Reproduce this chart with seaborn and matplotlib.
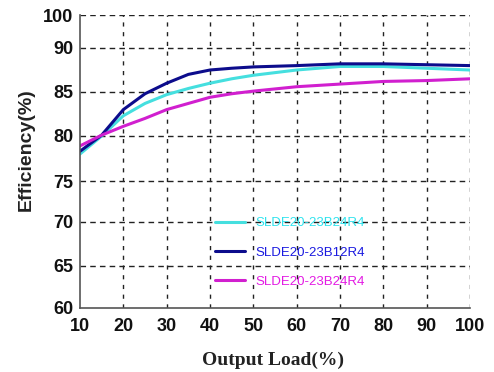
import numpy as np
import pandas as pd
import matplotlib
matplotlib.use("Agg")
import matplotlib.pyplot as plt
import seaborn as sns

# ---- data ----
load = [10, 15, 20, 25, 30, 35, 40, 45, 50, 60, 70, 80, 90, 100]
eff_b24_cyan = [78.0, 80.0, 82.3, 83.7, 84.7, 85.4, 86.0, 86.5, 86.9, 87.5, 87.9, 87.9, 87.7, 87.5]
eff_b12_blue = [78.3, 80.1, 83.0, 84.8, 86.0, 87.0, 87.5, 87.7, 87.85, 88.0, 88.2, 88.2, 88.1, 88.0]
eff_b24_mag = [78.9, 80.1, 81.1, 82.0, 83.0, 83.7, 84.4, 84.8, 85.1, 85.6, 85.9, 86.2, 86.3, 86.5]
labels = ["SLDE20-23B24R4", "SLDE20-23B12R4", "SLDE20-23B24R4"]
x_ticks = [10, 20, 30, 40, 50, 60, 70, 80, 90, 100]
y_ticks = [60, 65, 70, 75, 80, 85, 90, 100]

line_colors = ["#45dfdf", "#0c0c8c", "#d11fcf"]
text_colors = ["#2fe3ee", "#1a1ae0", "#e31ae3"]

sns.set_theme(style="white")
plt.rcParams["font.family"] = ["Liberation Sans", "DejaVu Sans"]

fig = plt.figure(figsize=(4.94, 3.72), dpi=100)
ax = fig.add_axes([80 / 494, 1 - 308 / 372, 390 / 494, 293 / 372])

# non-uniform y axis (90-100 compressed, as in the original)
tick_pos = np.array([0, 42, 86, 127, 172, 216, 260, 293], dtype=float)
tick_val = np.array(y_ticks, dtype=float)


def fwd(y):
    y = np.asarray(y, dtype=float)
    out = np.interp(y, tick_val, tick_pos)
    lo = y < tick_val[0]
    hi = y > tick_val[-1]
    out = np.where(lo, tick_pos[0] + (y - tick_val[0]) * 8.4, out)
    out = np.where(hi, tick_pos[-1] + (y - tick_val[-1]) * 3.3, out)
    return out


def inv(p):
    p = np.asarray(p, dtype=float)
    out = np.interp(p, tick_pos, tick_val)
    lo = p < tick_pos[0]
    hi = p > tick_pos[-1]
    out = np.where(lo, tick_val[0] + (p - tick_pos[0]) / 8.4, out)
    out = np.where(hi, tick_val[-1] + (p - tick_pos[-1]) / 3.3, out)
    return out


ax.set_yscale("function", functions=(fwd, inv))

series = [eff_b24_cyan, eff_b12_blue, eff_b24_mag]
for vals, lab, col in zip(series, labels, line_colors):
    df = pd.DataFrame({"load": load, "eff": vals})
    sns.lineplot(data=df, x="load", y="eff", ax=ax, color=col, linewidth=2.2,
                 label=lab, legend=False)
handles = ax.get_lines()[:3]

ax.set_xlim(10, 100)
ax.set_ylim(60, 100)
ax.set_xticks(x_ticks)
ax.set_yticks(y_ticks)
ax.set_xticklabels([str(t) for t in x_ticks], fontsize=13, fontweight="bold", color="#111111")
ax.set_yticklabels([str(t) for t in y_ticks], fontsize=13, fontweight="bold", color="#111111")
ax.tick_params(axis="both", length=0)
ax.tick_params(axis="x", pad=7)
ax.tick_params(axis="y", pad=5)

# grid: dashed black, serving as top/right frame too
for xv in x_ticks[1:]:
    ax.axvline(xv, color="#222222", linestyle=(0, (3, 4)), linewidth=1.0, zorder=0)
for yv in y_ticks[1:]:
    ax.axhline(yv, color="#222222", linestyle=(0, (4, 3)), linewidth=1.0, zorder=0)

for s in ["top", "right"]:
    ax.spines[s].set_visible(False)
for s in ["left", "bottom"]:
    ax.spines[s].set_color("#555555")
    ax.spines[s].set_linewidth(1.2)

ax.set_ylabel("Efficiency(%)", fontsize=14, fontweight="bold", color="#222222", va="center")
ax.yaxis.set_label_coords(-0.138, 0.54)
ax.set_xlabel("Output Load(%)", fontsize=14, fontweight="bold", color="#222222",
              family=["Liberation Serif", "DejaVu Serif"], va="center")
ax.xaxis.set_label_coords(0.494, -0.177)

leg = ax.legend(handles=handles, labels=labels, loc="upper left",
                bbox_to_anchor=(215 / 494, 1 - 217 / 372), bbox_transform=fig.transFigure,
                frameon=False, fontsize=9.5, handlelength=2.3, handletextpad=0.75,
                labelspacing=1.3, borderpad=0, borderaxespad=0, labelcolor=text_colors)

fig.savefig("out.png", dpi=100, facecolor="white")
